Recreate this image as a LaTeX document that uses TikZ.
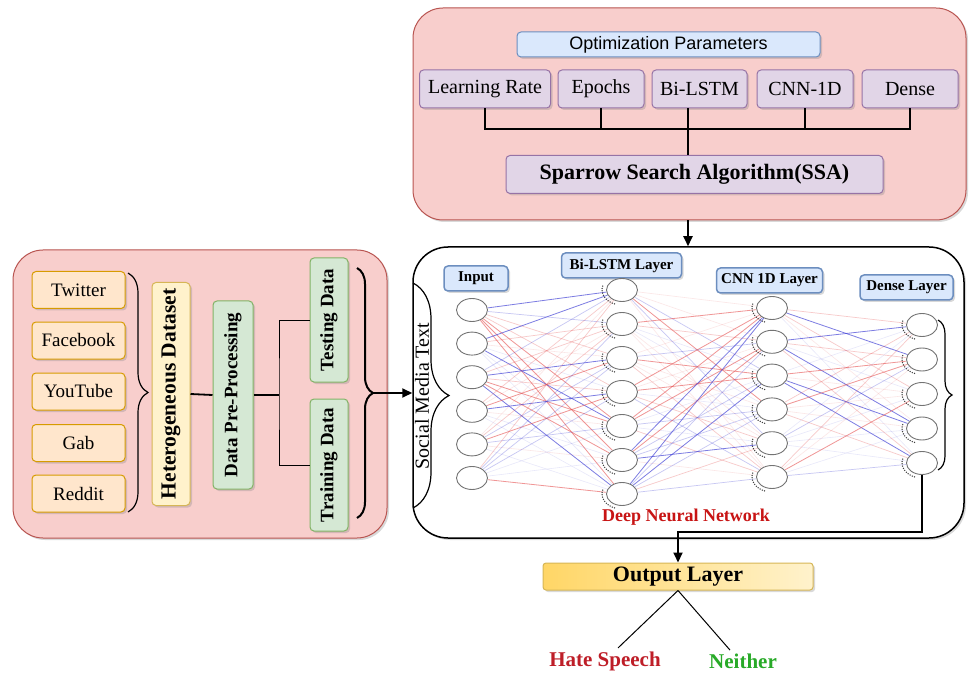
\documentclass[tikz,border=0pt]{standalone}
\usepackage{fontspec}
\setmainfont{Liberation Serif}
\newfontfamily\arialfont{Liberation Sans}
\usetikzlibrary{%
	arrows.meta,%
	shapes.geometric,%
	shadows,%
	decorations.pathreplacing,%
	backgrounds,%
}
\definecolor{cpink}{RGB}{248, 206, 204}
\definecolor{cpinkdark}{RGB}{184, 84, 80}
\definecolor{cbluelight}{RGB}{218, 232, 252}
\definecolor{cblue}{RGB}{108, 142, 191}
\definecolor{cpurplelight}{RGB}{225, 213, 231}
\definecolor{cpurple}{RGB}{150, 115, 166}
\definecolor{corangelight}{RGB}{255, 230, 204}
\definecolor{corange}{RGB}{215, 155, 0}
\definecolor{cyellowlight}{RGB}{255, 242, 204}
\definecolor{cyellow}{RGB}{214, 182, 86}
\definecolor{cgold}{RGB}{255, 214, 102}
\definecolor{cgreenlight}{RGB}{213, 232, 212}
\definecolor{cgreen}{RGB}{130, 179, 102}
\definecolor{chate}{RGB}{190, 30, 40}
\definecolor{cneither}{RGB}{40, 170, 40}
\definecolor{cdnn}{RGB}{200, 20, 20}
\definecolor{cwblue}{RGB}{70, 70, 215}
\definecolor{cwred}{RGB}{230, 80, 80}
\pgfdeclarelayer{edges}
\pgfsetlayers{background,edges,main}
\tikzset{
	>={Triangle[length=10pt,width=9pt]},%
	nodes={align=center},%
	softshadow/.style={%
			drop shadow={shadow xshift=2pt, shadow yshift=-2pt, opacity=0.3}},%
	panel/.style={%
			draw=cpinkdark,%
			fill=cpink,%
			line width=1pt,%
			rounded corners=30pt,%
			softshadow},%
	nnpanel/.style={%
			draw=black,%
			fill=white,%
			line width=1.5pt,%
			rounded corners=35pt,%
			softshadow},%
	comp/.style={%
			draw,%
			rectangle,%
			line width=1pt,%
			rounded corners=4pt,%
			inner sep=2pt,%
			softshadow},%
	optnode/.style={%
			comp,%
			draw=cblue,%
			fill=cbluelight,%
			minimum width=303pt,%
			minimum height=25pt,%
			font={\arialfont\fontsize{18}{20}\selectfont}},%
	paramnode/.style={%
			comp,%
			draw=cpurple,%
			fill=cpurplelight,%
			minimum height=38pt,%
			font={\fontsize{20}{22}\selectfont}},%
	ssanode/.style={%
			comp,%
			draw=cpurple,%
			fill=cpurplelight,%
			minimum width=377pt,%
			minimum height=38pt,%
			font={\bfseries\fontsize{22}{24}\selectfont}},%
	sourcenode/.style={%
			comp,%
			draw=corange,%
			fill=corangelight,%
			minimum width=93pt,%
			minimum height=37pt,%
			font={\fontsize{19}{21}\selectfont}},%
	vertnode/.style={%
			comp,%
			rotate=90,%
			font={\bfseries\fontsize{19}{21}\selectfont}},%
	layernode/.style={%
			comp,%
			draw=cblue,%
			fill=cbluelight,%
			line width=1.5pt,%
			minimum height=25pt,%
			font={\bfseries\fontsize{15}{17}\selectfont}},%
	outnode/.style={%
			comp,%
			draw=cyellow,%
			left color=cgold,%
			right color=cyellowlight,%
			rounded corners=3pt,%
			minimum width=270pt,%
			minimum height=27pt,%
			font={\bfseries\fontsize{22}{24}\selectfont}},%
	neuron/.style={%
			ellipse,%
			draw=black!55,%
			line width=0.9pt,%
			fill=white,%
			minimum width=31pt,%
			minimum height=23pt,%
			inner sep=0pt},%
	dotmark/.style={%
			black!75,%
			line width=1.5pt,%
			line cap=round,%
			dash pattern=on 0pt off 2.4pt},%
	bracemark/.style={%
			decorate,%
			decoration={brace, amplitude=#1},%
			line width=1.2pt},%
	bus/.style={line width=2.5pt},%
	w0/.style={cwblue, opacity=0.7, line width=0.8pt},%
	w1/.style={cwred, opacity=0.6, line width=0.8pt},%
	w2/.style={cwblue, opacity=0.3, line width=0.7pt},%
	w3/.style={cwred, opacity=0.3, line width=0.7pt},%
	w4/.style={cwblue, opacity=0.12, line width=0.6pt},%
	w5/.style={cwred, opacity=0.14, line width=0.6pt},%
}

\begin{document}
\begin{tikzpicture}[x=1pt, y=-1pt]
	\useasboundingbox (0,0) rectangle (969,676);

	% containers
	\begin{pgfonlayer}{background}
		\node[panel, minimum width=553pt, minimum height=212pt] (optpanel) at (689.5,114) {};
		\node[panel, minimum width=374pt, minimum height=288pt] (datapanel) at (200,394) {};
		\node[nnpanel, minimum width=551pt, minimum height=291pt] (nnbox) at (688.5,392.5) {};
	\end{pgfonlayer}

	% optimization part
	\node[optnode] (opt) at (668.5,44.5) {Optimization Parameters};
	\node[paramnode, minimum width=131pt] (lr) at (485,89) {Learning Rate};
	\node[paramnode, minimum width=86pt] (ep) at (601,89) {Epochs};
	\node[paramnode, minimum width=95pt] (bl) at (699.5,89) {Bi-LSTM};
	\node[paramnode, minimum width=96pt] (cn) at (805,89) {CNN-1D};
	\node[paramnode, minimum width=96pt] (dn) at (910,89) {Dense};
	\node[ssanode] (ssa) at (694.5,174.5) {Sparrow Search Algorithm(SSA)};

	\coordinate (hub) at (688,129);
	\draw[bus] (lr.south) |- (hub) -| (dn.south);
	\foreach \p in {ep,cn}
		\draw[bus] (\p.south) -- (\p.south |- hub);
	\draw[bus] (hub |- bl.south) -- (hub) -- (hub |- ssa.north);
	\draw[->, line width=2pt] (optpanel.south -| hub) -- (nnbox.north -| hub);

	% data part
	\foreach \src/\name/\yy in {tw/Twitter/290, fb/Facebook/340.5, yt/YouTube/391.5, gab/Gab/443, rd/Reddit/493.5}
		\node[sourcenode] (\src) at (78.5,\yy) {\name};
	\draw[bracemark=20pt] (128,273) -- (128,512);

	\node[vertnode, draw=cyellow, fill=cyellowlight, minimum width=223pt, minimum height=38pt,
		font={\bfseries\fontsize{21.5}{23}\selectfont}] (het) at (171,394) {Heterogeneous Dataset};
	\node[vertnode, draw=cgreen, fill=cgreenlight, minimum width=188pt, minimum height=40pt] (dpp) at (233,395) {Data Pre-Processing};
	\node[vertnode, draw=cgreen, fill=cgreenlight, minimum width=124pt, minimum height=38pt] (test) at (329,320) {Testing Data};
	\node[vertnode, draw=cgreen, fill=cgreenlight, minimum width=132pt, minimum height=38pt] (train) at (329,465) {Training Data};

	\coordinate (split) at (279,395);
	\draw[line width=1.8pt] (het.south) -- (dpp.north);
	\draw[line width=1.8pt] (dpp.south) -- (split);
	\draw[line width=1pt] (test.north) -| (split) |- (train.north);

	\draw[bracemark=16pt, line width=2pt] (357,268) -- (357,518);
	\coordinate (ttip) at (373,393);
	\draw[->, line width=1.8pt] (ttip) -- (ttip -| nnbox.west);

	% network
	\node[rotate=90, font={\fontsize{20}{22}\selectfont}] (smt) at (422,396) {Social Media Text};
	\draw[bracemark=36pt] (413,283) -- (413,508);

	\node[layernode, minimum width=64pt] (linput) at (476,278.5) {Input};
	\node[layernode, minimum width=120pt] (llstm) at (621.5,265.5) {Bi-LSTM Layer};
	\node[layernode, minimum width=106pt] (lcnn) at (769.5,280.5) {CNN 1D Layer};
	\node[layernode, minimum width=93pt] (ldense) at (906.5,287.5) {Dense Layer};

	\foreach \i in {1,...,6}
		\node[neuron] (in\i) at (472,{310+33.6*(\i-1)}) {};
	\foreach \i in {1,...,7}
		\node[neuron] (ls\i) at (622,{290+34*(\i-1)}) {};
	\foreach \i in {1,...,6}
		\node[neuron] (cn\i) at (772,{308+33.8*(\i-1)}) {};
	\foreach \i in {1,...,5}
		\node[neuron] (de\i) at (922,{325+34.5*(\i-1)}) {};

	\pgfmathsetseed{42}
	\begin{pgfonlayer}{edges}
		\foreach \la/\lb/\na/\nb in {in/ls/6/7, ls/cn/7/6, cn/de/6/5}
			\foreach \i in {1,...,\na}
				\foreach \j in {1,...,\nb}{
					\pgfmathrandominteger{\w}{0}{5}
					\draw[w\w] (\la\i) -- (\lb\j);
				}
	\end{pgfonlayer}

	\foreach \l/\k in {ls/7, cn/6, de/5}
		\foreach \i in {1,...,\k}
			\draw[dotmark] (\l\i.center) ++(165:20pt and 15pt) arc[start angle=165, end angle=250, x radius=20pt, y radius=15pt];

	\draw[bracemark=14pt] (938,320) -- (938,470);
	\node[font={\bfseries\fontsize{18}{20}\selectfont}, text=cdnn] (dnn) at (686,517) {Deep Neural Network};

	% output
	\node[outnode] (out) at (678,576.5) {Output Layer};
	\coordinate (bend) at (922,532);
	\draw[->, line width=2pt] (de5.south) -- (bend) -| (out.north);

	\node[font={\bfseries\fontsize{21}{23}\selectfont}, text=chate] (hate) at (605,661) {Hate Speech};
	\node[font={\bfseries\fontsize{21}{23}\selectfont}, text=cneither] (neither) at (743,661) {Neither};
	\draw[line width=1pt] (out.south) -- ([xshift=13pt]hate.north);
	\draw[line width=1pt] (out.south) -- ([xshift=-13pt]neither.north);
\end{tikzpicture}
\end{document}
